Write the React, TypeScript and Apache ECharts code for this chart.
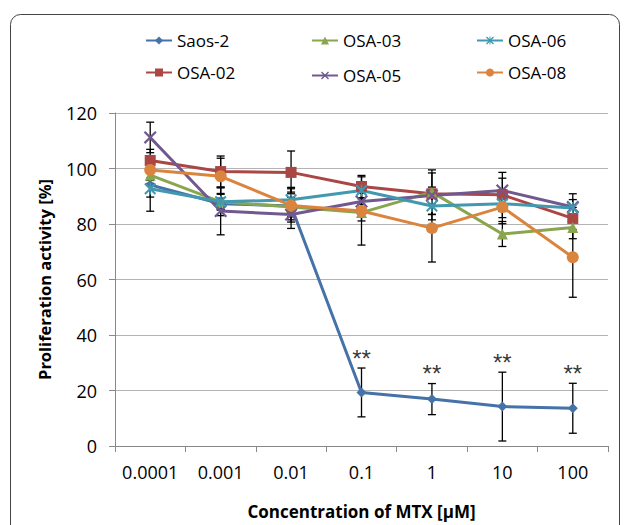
import React, { useEffect, useRef } from "react";
import * as echarts from "echarts";

const categories = ["0.0001", "0.001", "0.01", "0.1", "1", "10", "100"];

const seriesNames = ["Saos-2", "OSA-02", "OSA-03", "OSA-05", "OSA-06", "OSA-08"];

const saos2 = [94.1, 87.3, 86.5, 19.3, 16.9, 14.2, 13.6];
const osa02 = [102.9, 98.9, 98.6, 93.5, 90.9, 90.5, 82.0];
const osa03 = [97.6, 88.0, 86.1, 84.1, 91.5, 76.4, 78.7];
const osa05 = [111.2, 84.7, 83.4, 88.1, 90.3, 92.1, 86.1];
const osa06 = [92.7, 88.0, 88.7, 92.1, 86.5, 87.3, 85.8];
const osa08 = [99.5, 97.2, 86.7, 84.7, 78.5, 86.1, 68.0];

const saos2Err = [9.5, 2.0, 5.0, 8.8, 5.6, 12.4, 9.0];
const osa02Err = [4.0, 5.6, 7.7, 4.0, 7.5, 6.0, 4.0];
const osa03Err = [3.0, 3.0, 3.5, 3.0, 8.0, 4.5, 4.0];
const osa05Err = [5.5, 8.6, 5.0, 3.0, 3.0, 6.5, 4.8];
const osa06Err = [3.0, 5.0, 4.5, 3.0, 5.0, 5.0, 3.0];
const osa08Err = [3.0, 6.5, 6.0, 12.3, 12.2, 6.0, 14.4];

const saos2Sig = ["", "", "", "**", "**", "**", "**"];

const yTicks = { min: 0, max: 120, interval: 20 };

const allValues = [saos2, osa02, osa03, osa05, osa06, osa08];
const allErrors = [saos2Err, osa02Err, osa03Err, osa05Err, osa06Err, osa08Err];

const colors = ["#4572A7", "#AA4643", "#89A54E", "#71588F", "#4198AF", "#DB843D"];

const X_PATH =
  "path://M0,1.2L1.2,0L5,3.8L8.8,0L10,1.2L6.2,5L10,8.8L8.8,10L5,6.2L1.2,10L0,8.8L3.8,5Z";
const STAR_PATH =
  "path://M0,1.2L1.2,0L5,3.8L8.8,0L10,1.2L6.2,5L10,8.8L8.8,10L5,6.2L1.2,10L0,8.8L3.8,5Z M4.4,0L5.6,0L5.6,10L4.4,10Z";

const symbols = ["diamond", "rect", "triangle", X_PATH, STAR_PATH, "circle"];
const symbolSizes = [10, 11, 11, 13, 12, 12];

const legendPos = [
  { left: 145, top: 32 },
  { left: 145, top: 64 },
  { left: 311, top: 32 },
  { left: 311, top: 67 },
  { left: 476, top: 32 },
  { left: 476, top: 64 },
];

export default function App() {
  const ref = useRef<HTMLDivElement>(null);

  useEffect(() => {
    if (!ref.current) return;
    const chart = echarts.init(ref.current, null, { renderer: "svg" });

    const font = "'Open Sans', 'Liberation Sans', Arial, sans-serif";

    const lineSeries = seriesNames.map((name, i) => ({
      name,
      type: "line",
      data: allValues[i],
      symbol: symbols[i],
      symbolSize: symbolSizes[i],
      showSymbol: true,
      lineStyle: { color: colors[i], width: 3 },
      itemStyle: { color: colors[i] },
      z: 3,
    }));

    const errData: number[][] = [];
    allValues.forEach((vals, si) => {
      vals.forEach((v, ci) => {
        errData.push([ci, v, allErrors[si][ci]]);
      });
    });

    const errorSeries = {
      type: "custom",
      name: "errors",
      z: 2,
      renderItem: (params: any, api: any) => {
        const x = api.value(0);
        const y = api.value(1);
        const e = api.value(2);
        const top = api.coord([x, y + e]);
        const bot = api.coord([x, y - e]);
        const cap = 4;
        const style = { stroke: "#000", lineWidth: 1.3 };
        return {
          type: "group",
          children: [
            { type: "line", shape: { x1: top[0], y1: top[1], x2: bot[0], y2: bot[1] }, style },
            { type: "line", shape: { x1: top[0] - cap, y1: top[1], x2: top[0] + cap, y2: top[1] }, style },
            { type: "line", shape: { x1: bot[0] - cap, y1: bot[1], x2: bot[0] + cap, y2: bot[1] }, style },
          ],
        };
      },
      encode: { x: 0, y: 1 },
      data: errData,
      silent: true,
    };

    const sigSeries = {
      type: "scatter",
      name: "sig",
      symbolSize: 0,
      silent: true,
      data: saos2
        .map((v, i) => ({ value: [i, v + saos2Err[i]], label: { formatter: saos2Sig[i] } }))
        .filter((d, i) => saos2Sig[i] !== ""),
      label: {
        show: true,
        position: "top",
        distance: -2,
        color: "#000",
        fontSize: 24,
        fontFamily: "'Liberation Sans', Arial, sans-serif",
      },
      z: 4,
    };

    const legends = seriesNames.map((name, i) => ({
      data: [name],
      left: legendPos[i].left,
      top: legendPos[i].top,
      padding: 0,
      itemWidth: 26,
      itemHeight: 10,
      itemGap: 6,
      textStyle: { fontSize: 17, fontFamily: font, color: "#000" },
    }));

    chart.setOption({
      animation: false,
      backgroundColor: "#fff",
      textStyle: { fontFamily: font },
      legend: legends,
      graphic: [
        {
          type: "rect",
          shape: { x: 10.5, y: 14.5, width: 609, height: 600, r: 10 },
          style: { fill: "none", stroke: "#444", lineWidth: 1 },
          silent: true,
          z: 0,
        },
      ],
      grid: { left: 115, right: 19, top: 113, bottom: 74 },
      xAxis: {
        type: "category",
        data: categories,
        boundaryGap: true,
        axisLine: { lineStyle: { color: "#888", width: 1 } },
        axisTick: { show: true, interval: 0, length: 6, lineStyle: { color: "#888" } },
        axisLabel: { interval: 0, hideOverlap: false, fontSize: 18, color: "#000", margin: 17, fontFamily: font },
        name: "Concentration of MTX [µM]",
        nameLocation: "middle",
        nameGap: 57,
        nameTextStyle: { fontSize: 17, fontWeight: "bold", color: "#000", fontFamily: font },
      },
      yAxis: {
        type: "value",
        min: yTicks.min,
        max: yTicks.max,
        interval: yTicks.interval,
        axisLine: { show: true, lineStyle: { color: "#888", width: 1 } },
        axisTick: { show: true, length: 6, lineStyle: { color: "#888" } },
        splitLine: { show: true, lineStyle: { color: "#b3b3b3", width: 1 } },
        axisLabel: { fontSize: 18, color: "#000", margin: 18, fontFamily: font },
        name: "Proliferation activity [%]",
        nameLocation: "middle",
        nameGap: 62,
        nameTextStyle: { fontSize: 16.5, fontWeight: "bold", color: "#000", fontFamily: font },
      },
      series: [errorSeries, ...lineSeries, sigSeries],
    });

    return () => chart.dispose();
  }, []);

  return (
    <div
      ref={ref}
      style={{ position: "fixed", left: 0, top: 0, width: 627, height: 525 }}
    />
  );
}
